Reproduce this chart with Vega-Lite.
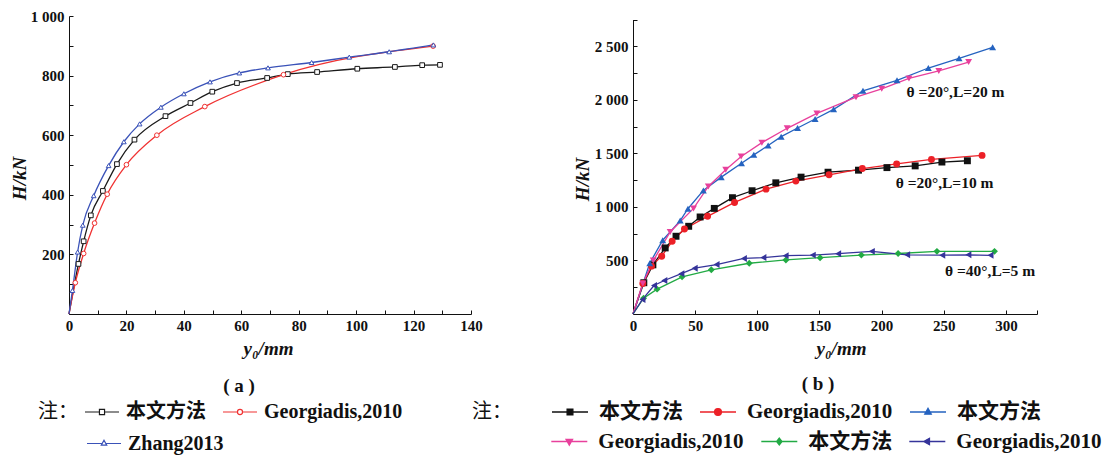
{
  "$schema": "https://vega.github.io/schema/vega-lite/v6.json",
  "background": "white",
  "padding": {"left": 10, "top": 9, "right": 0, "bottom": 0},
  "spacing": 162,
  "bounds": "flush",
  "resolve": {"scale": {"color": "independent", "shape": "independent", "stroke": "independent"}, "legend": {"color": "independent", "shape": "independent", "stroke": "independent"}},
  "config": {
    "view": {"stroke": null},
    "axis": {
      "grid": false,
      "domainColor": "#111111",
      "domainWidth": 1,
      "tickColor": "#111111",
      "tickWidth": 1,
      "tickSize": -4,
      "labelFont": "Liberation Serif",
      "labelFontSize": 15,
      "labelFontWeight": "bold",
      "labelColor": "#111111",
      "labelFlush": false,
      "labelOverlap": false,
      "titleFont": "Liberation Serif",
      "titleFontSize": 19,
      "titleFontWeight": "bold",
      "titleFontStyle": "italic",
      "titleColor": "#111111"
    },
    "axisX": {"labelPadding": 8},
    "axisY": {"labelPadding": 9},
    "legend": {
      "orient": "none",
      "direction": "horizontal",
      "titleOrient": "left",
      "titleAnchor": "middle",
      "titleBaseline": "middle",
      "titleFont": "Noto Sans CJK SC",
      "titleFontSize": 20,
      "titleFontWeight": "normal",
      "titleColor": "#111111",
      "labelFont": "Liberation Serif, Noto Sans CJK SC",
      "labelFontWeight": "bold",
      "labelColor": "#111111",
      "labelLimit": 0,
      "clipHeight": 30,
      "rowPadding": 0
    }
  },
  "datasets": {
    "a": [
      {"s": "本文方法", "x": 0, "y": 0},
      {"s": "本文方法", "x": 3.3, "y": 168},
      {"s": "本文方法", "x": 5.1, "y": 244},
      {"s": "本文方法", "x": 7.6, "y": 331},
      {"s": "本文方法", "x": 11.8, "y": 413},
      {"s": "本文方法", "x": 16.7, "y": 503},
      {"s": "本文方法", "x": 22.8, "y": 585},
      {"s": "本文方法", "x": 33.6, "y": 664},
      {"s": "本文方法", "x": 42.3, "y": 708},
      {"s": "本文方法", "x": 49.9, "y": 746},
      {"s": "本文方法", "x": 58.5, "y": 775},
      {"s": "本文方法", "x": 69.0, "y": 792},
      {"s": "本文方法", "x": 76.2, "y": 805},
      {"s": "本文方法", "x": 86.4, "y": 812},
      {"s": "本文方法", "x": 100.4, "y": 823},
      {"s": "本文方法", "x": 113.5, "y": 829},
      {"s": "本文方法", "x": 123.0, "y": 835},
      {"s": "本文方法", "x": 129.2, "y": 836},
      {"s": "Georgiadis,2010", "x": 0, "y": 0},
      {"s": "Georgiadis,2010", "x": 2.2, "y": 105},
      {"s": "Georgiadis,2010", "x": 5.1, "y": 203},
      {"s": "Georgiadis,2010", "x": 8.9, "y": 305},
      {"s": "Georgiadis,2010", "x": 13.3, "y": 402},
      {"s": "Georgiadis,2010", "x": 20.0, "y": 501},
      {"s": "Georgiadis,2010", "x": 30.6, "y": 600},
      {"s": "Georgiadis,2010", "x": 47.3, "y": 696},
      {"s": "Georgiadis,2010", "x": 74.7, "y": 803},
      {"s": "Georgiadis,2010", "x": 126.8, "y": 899},
      {"s": "Zhang2013", "x": 0, "y": 0},
      {"s": "Zhang2013", "x": 1.2, "y": 79},
      {"s": "Zhang2013", "x": 3.0, "y": 208},
      {"s": "Zhang2013", "x": 4.8, "y": 298},
      {"s": "Zhang2013", "x": 8.6, "y": 397},
      {"s": "Zhang2013", "x": 13.8, "y": 498},
      {"s": "Zhang2013", "x": 19.1, "y": 578},
      {"s": "Zhang2013", "x": 24.6, "y": 638},
      {"s": "Zhang2013", "x": 32.0, "y": 694},
      {"s": "Zhang2013", "x": 40.0, "y": 739},
      {"s": "Zhang2013", "x": 49.1, "y": 779},
      {"s": "Zhang2013", "x": 59.3, "y": 809},
      {"s": "Zhang2013", "x": 69.3, "y": 826},
      {"s": "Zhang2013", "x": 84.5, "y": 844},
      {"s": "Zhang2013", "x": 97.6, "y": 862},
      {"s": "Zhang2013", "x": 111.5, "y": 880},
      {"s": "Zhang2013", "x": 126.9, "y": 903}
    ],
    "b": [
      {"s": "b1", "x": 0, "y": 0},
      {"s": "b1", "x": 8.7, "y": 292},
      {"s": "b1", "x": 16.0, "y": 459},
      {"s": "b1", "x": 25.9, "y": 617},
      {"s": "b1", "x": 34.6, "y": 726},
      {"s": "b1", "x": 44.8, "y": 819},
      {"s": "b1", "x": 54.0, "y": 906},
      {"s": "b1", "x": 65.4, "y": 986},
      {"s": "b1", "x": 80.0, "y": 1086},
      {"s": "b1", "x": 95.8, "y": 1151},
      {"s": "b1", "x": 114.9, "y": 1225},
      {"s": "b1", "x": 135.2, "y": 1278},
      {"s": "b1", "x": 156.9, "y": 1324},
      {"s": "b1", "x": 181.4, "y": 1343},
      {"s": "b1", "x": 204.3, "y": 1367},
      {"s": "b1", "x": 227.0, "y": 1383},
      {"s": "b1", "x": 248.5, "y": 1419},
      {"s": "b1", "x": 269.0, "y": 1431},
      {"s": "b2", "x": 0, "y": 0},
      {"s": "b2", "x": 7.9, "y": 285},
      {"s": "b2", "x": 14.9, "y": 447},
      {"s": "b2", "x": 23.1, "y": 540},
      {"s": "b2", "x": 31.5, "y": 679},
      {"s": "b2", "x": 41.4, "y": 794},
      {"s": "b2", "x": 60.0, "y": 912},
      {"s": "b2", "x": 81.7, "y": 1042},
      {"s": "b2", "x": 107.0, "y": 1166},
      {"s": "b2", "x": 131.0, "y": 1241},
      {"s": "b2", "x": 157.7, "y": 1300},
      {"s": "b2", "x": 184.5, "y": 1358},
      {"s": "b2", "x": 212.1, "y": 1401},
      {"s": "b2", "x": 240.1, "y": 1443},
      {"s": "b2", "x": 280.8, "y": 1481},
      {"s": "b3", "x": 0, "y": 0},
      {"s": "b3", "x": 13.5, "y": 475},
      {"s": "b3", "x": 23.9, "y": 689},
      {"s": "b3", "x": 38.0, "y": 872},
      {"s": "b3", "x": 44.2, "y": 983},
      {"s": "b3", "x": 56.6, "y": 1154},
      {"s": "b3", "x": 71.0, "y": 1278},
      {"s": "b3", "x": 87.3, "y": 1408},
      {"s": "b3", "x": 97.2, "y": 1486},
      {"s": "b3", "x": 108.7, "y": 1573},
      {"s": "b3", "x": 119.2, "y": 1656},
      {"s": "b3", "x": 132.4, "y": 1737},
      {"s": "b3", "x": 146.5, "y": 1821},
      {"s": "b3", "x": 161.4, "y": 1911},
      {"s": "b3", "x": 185.0, "y": 2084},
      {"s": "b3", "x": 212.4, "y": 2182},
      {"s": "b3", "x": 237.6, "y": 2297},
      {"s": "b3", "x": 262.3, "y": 2387},
      {"s": "b3", "x": 289.3, "y": 2490},
      {"s": "b4", "x": 0, "y": 0},
      {"s": "b4", "x": 7.9, "y": 285},
      {"s": "b4", "x": 16.3, "y": 499},
      {"s": "b4", "x": 29.9, "y": 766},
      {"s": "b4", "x": 48.7, "y": 986},
      {"s": "b4", "x": 60.6, "y": 1191},
      {"s": "b4", "x": 74.6, "y": 1346},
      {"s": "b4", "x": 87.0, "y": 1470},
      {"s": "b4", "x": 103.7, "y": 1600},
      {"s": "b4", "x": 124.0, "y": 1734},
      {"s": "b4", "x": 147.9, "y": 1873},
      {"s": "b4", "x": 179.4, "y": 2025},
      {"s": "b4", "x": 200.1, "y": 2103},
      {"s": "b4", "x": 222.0, "y": 2200},
      {"s": "b4", "x": 246.0, "y": 2270},
      {"s": "b4", "x": 270.0, "y": 2353},
      {"s": "b5", "x": 0, "y": 0},
      {"s": "b5", "x": 8.5, "y": 147},
      {"s": "b5", "x": 19.4, "y": 232},
      {"s": "b5", "x": 39.5, "y": 347},
      {"s": "b5", "x": 63.0, "y": 413},
      {"s": "b5", "x": 93.5, "y": 474},
      {"s": "b5", "x": 123.0, "y": 505},
      {"s": "b5", "x": 150.5, "y": 526},
      {"s": "b5", "x": 183.7, "y": 550},
      {"s": "b5", "x": 213.3, "y": 565},
      {"s": "b5", "x": 244.5, "y": 585},
      {"s": "b5", "x": 290.8, "y": 585},
      {"s": "b6", "x": 0, "y": 0},
      {"s": "b6", "x": 7.6, "y": 136},
      {"s": "b6", "x": 16.9, "y": 266},
      {"s": "b6", "x": 25.2, "y": 313},
      {"s": "b6", "x": 38.9, "y": 377},
      {"s": "b6", "x": 49.6, "y": 428},
      {"s": "b6", "x": 67.2, "y": 462},
      {"s": "b6", "x": 89.2, "y": 519},
      {"s": "b6", "x": 104.9, "y": 527},
      {"s": "b6", "x": 122.8, "y": 545},
      {"s": "b6", "x": 144.6, "y": 550},
      {"s": "b6", "x": 165.0, "y": 563},
      {"s": "b6", "x": 192.1, "y": 585},
      {"s": "b6", "x": 220.5, "y": 553},
      {"s": "b6", "x": 248.8, "y": 549},
      {"s": "b6", "x": 269.8, "y": 553},
      {"s": "b6", "x": 287.6, "y": 548}
    ],
    "bt": [
      {"t": "θ =20°,L=20 m", "x": 220.1, "y": 2075},
      {"t": "θ =20°,L=10 m", "x": 211.3, "y": 1227},
      {"t": "θ =40°,L=5 m", "x": 251, "y": 398}
    ]
  },
  "hconcat": [
    {
      "width": 402,
      "height": 298,
      "title": {"text": "( a )", "orient": "bottom", "frame": "group", "anchor": "middle", "dx": -31, "offset": -82, "font": "Liberation Serif", "fontSize": 19, "fontWeight": "bold", "color": "#111111"},
      "data": {"name": "a"},
      "encoding": {
        "x": {"field": "x", "type": "quantitative",
          "scale": {"domain": [0, 140], "nice": false, "zero": false},
          "axis": {"values": [0, 10, 20, 30, 40, 50, 60, 70, 80, 90, 100, 110, 120, 130, 140],
            "labelExpr": "datum.value % 20 === 0 ? datum.label : ''",
            "title": "y₀/mm", "titleX": 199, "titleY": 40, "titleBaseline": "alphabetic", "titleAlign": "center"}},
        "y": {"field": "y", "type": "quantitative",
          "scale": {"domain": [0, 1000], "nice": false},
          "axis": {"values": [100, 200, 300, 400, 500, 600, 700, 800, 900, 1000],
            "labelExpr": "datum.value % 200 === 0 ? replace(format(datum.value, ','), ',', ' ') : ''",
            "title": "H/kN", "titleX": -49.5, "titleY": 162, "titleAngle": -90, "titleAlign": "center", "titleBaseline": "middle"}}
      },
      "layer": [
        {
          "mark": {"type": "line", "interpolate": "monotone", "strokeWidth": 1.3},
          "encoding": {
            "color": {"field": "s", "type": "nominal",
              "scale": {"domain": ["本文方法", "Georgiadis,2010", "Zhang2013"], "range": ["#1a1a1a", "#f03232", "#3a52b8"]},
              "legend": null}
          }
        },
        {
          "transform": [{"filter": "datum.x > 0"}],
          "mark": {"type": "point", "filled": false, "fill": "white", "size": 22, "strokeWidth": 1, "opacity": 1},
          "encoding": {
            "shape": {"field": "s", "type": "nominal",
              "scale": {"domain": ["本文方法", "Georgiadis,2010", "Zhang2013"], "range": ["square", "circle", "triangle-up"]},
              "legend": null},
            "color": {"field": "s", "type": "nominal",
              "scale": {"domain": ["本文方法", "Georgiadis,2010", "Zhang2013"], "range": ["#1a1a1a", "#f03232", "#3a52b8"]},
              "legend": null}
          }
        },
        {
          "transform": [{"filter": "false"}],
          "mark": {"type": "point", "filled": false, "fill": "white", "strokeWidth": 1.2, "opacity": 1},
          "encoding": {
            "shape": {"field": "s", "type": "nominal",
              "scale": {"domain": ["本文方法", "Georgiadis,2010"], "range": ["M-1,0H-0.15M0.15,0H1M-0.15,-0.15H0.15V0.15H-0.15Z", "M-1,0H-0.15M0.15,0H1M-0.15,0A0.15,0.15 0 1,0 0.15,0A0.15,0.15 0 1,0 -0.15,0Z"]},
              "legend": {"title": "注：", "legendX": -31, "legendY": 381, "columns": 2, "titlePadding": 6, "labelFontSize": 20, "labelOffset": 6, "columnPadding": 16, "symbolSize": 1156, "symbolStrokeWidth": 1.2, "encode": {"symbols": {"fill": {"value": "white"}}}}},
            "color": {"field": "s", "type": "nominal",
              "scale": {"domain": ["本文方法", "Georgiadis,2010"], "range": ["#1a1a1a", "#f03232"]},
              "legend": {"title": "注：", "legendX": -31, "legendY": 381, "columns": 2, "titlePadding": 6, "labelFontSize": 20, "labelOffset": 6, "columnPadding": 16, "symbolSize": 1156, "symbolStrokeWidth": 1.2, "encode": {"symbols": {"fill": {"value": "white"}}}}}
          }
        },
        {
          "transform": [{"filter": "false"}],
          "mark": {"type": "point", "filled": false, "fill": "white", "strokeWidth": 1.2, "opacity": 1},
          "encoding": {
            "shape": {"field": "s", "type": "nominal",
              "scale": {"domain": ["Zhang2013"], "range": ["M-1,0H-0.1M0.1,0H1M0,-0.19L0.16,0.1H-0.16Z"]},
              "legend": {"title": null, "legendX": 17, "legendY": 412.5, "columns": 1, "labelFontSize": 20, "labelOffset": 6, "symbolSize": 1156, "symbolStrokeWidth": 1.2, "encode": {"symbols": {"fill": {"value": "white"}}}}},
            "color": {"field": "s", "type": "nominal",
              "scale": {"domain": ["Zhang2013"], "range": ["#3a52b8"]},
              "legend": {"title": null, "legendX": 17, "legendY": 412.5, "columns": 1, "labelFontSize": 20, "labelOffset": 6, "symbolSize": 1156, "symbolStrokeWidth": 1.2, "encode": {"symbols": {"fill": {"value": "white"}}}}}
          }
        }
      ],
      "resolve": {"scale": {"color": "independent", "shape": "independent"}, "legend": {"color": "independent", "shape": "independent"}}
    },
    {
      "width": 404,
      "height": 298,
      "title": {"text": "( b )", "orient": "bottom", "frame": "group", "anchor": "middle", "dx": -17, "offset": -82, "font": "Liberation Serif", "fontSize": 19, "fontWeight": "bold", "color": "#111111"},
      "encoding": {
        "x": {"field": "x", "type": "quantitative",
          "scale": {"domain": [0, 325], "nice": false, "zero": false},
          "axis": {"values": [0, 50, 100, 150, 200, 250, 300, 325],
            "labelExpr": "datum.value <= 300 ? datum.label : ''",
            "title": "y₀/mm", "titleX": 208, "titleY": 40, "titleBaseline": "alphabetic", "titleAlign": "center"}},
        "y": {"field": "y", "type": "quantitative",
          "scale": {"domain": [0, 2750], "nice": false, "range": [298, 3.5]},
          "axis": {"values": [250, 500, 750, 1000, 1250, 1500, 1750, 2000, 2250, 2500, 2750],
            "labelExpr": "datum.value % 500 === 0 ? replace(format(datum.value, ','), ',', ' ') : ''",
            "title": "H/kN", "titleX": -50.5, "titleY": 163, "titleAngle": -90, "titleAlign": "center", "titleBaseline": "middle"}}
      },
      "layer": [
        {
          "data": {"name": "b"},
          "mark": {"type": "line", "strokeWidth": 1.3},
          "encoding": {
            "color": {"field": "s", "type": "nominal",
              "scale": {"domain": ["b1", "b2", "b3", "b4", "b5", "b6"], "range": ["#111111", "#ec2027", "#2563c0", "#e8409c", "#22aa44", "#35349a"]},
              "legend": null}
          }
        },
        {
          "data": {"name": "b"},
          "transform": [{"filter": "datum.x > 0"}],
          "mark": {"type": "point", "filled": true, "size": 48, "opacity": 1},
          "encoding": {
            "shape": {"field": "s", "type": "nominal",
              "scale": {"domain": ["b1", "b2", "b3", "b4", "b5", "b6"], "range": ["square", "circle", "triangle-up", "triangle-down", "diamond", "triangle-left"]},
              "legend": null},
            "color": {"field": "s", "type": "nominal",
              "scale": {"domain": ["b1", "b2", "b3", "b4", "b5", "b6"], "range": ["#111111", "#ec2027", "#2563c0", "#e8409c", "#22aa44", "#35349a"]},
              "legend": null}
          }
        },
        {
          "data": {"name": "b"},
          "transform": [{"filter": "false"}],
          "mark": {"type": "point", "filled": true, "strokeWidth": 1.3, "opacity": 1},
          "encoding": {
            "shape": {"field": "s", "type": "nominal",
              "scale": {"domain": ["b1", "b2", "b3"], "range": ["M-1,0H1M-0.16,-0.16H0.16V0.16H-0.16Z", "M-1,0H1M-0.19,0A0.19,0.19 0 1,0 0.19,0A0.19,0.19 0 1,0 -0.19,0Z", "M-1,0H1M0,-0.2L0.18,0.12H-0.18Z"]},
              "legend": {"title": "注：", "legendX": -161, "legendY": 381, "columns": 3, "titlePadding": 39, "labelFontSize": 21, "labelOffset": 10, "columnPadding": 16, "symbolSize": 1296, "symbolStrokeWidth": 1.3, "labelExpr": "datum.value === 'b2' ? 'Georgiadis,2010' : '本文方法'"}},
            "color": {"field": "s", "type": "nominal",
              "scale": {"domain": ["b1", "b2", "b3"], "range": ["#111111", "#ec2027", "#2563c0"]},
              "legend": {"title": "注：", "legendX": -161, "legendY": 381, "columns": 3, "titlePadding": 39, "labelFontSize": 21, "labelOffset": 10, "columnPadding": 16, "symbolSize": 1296, "symbolStrokeWidth": 1.3, "labelExpr": "datum.value === 'b2' ? 'Georgiadis,2010' : '本文方法'"}},
            "stroke": {"field": "s", "type": "nominal",
              "scale": {"domain": ["b1", "b2", "b3"], "range": ["#111111", "#ec2027", "#2563c0"]},
              "legend": {"title": "注：", "legendX": -161, "legendY": 381, "columns": 3, "titlePadding": 39, "labelFontSize": 21, "labelOffset": 10, "columnPadding": 16, "symbolSize": 1296, "symbolStrokeWidth": 1.3, "labelExpr": "datum.value === 'b2' ? 'Georgiadis,2010' : '本文方法'"}}
          }
        },
        {
          "data": {"name": "b"},
          "transform": [{"filter": "false"}],
          "mark": {"type": "point", "filled": true, "strokeWidth": 1.3, "opacity": 1},
          "encoding": {
            "shape": {"field": "s", "type": "nominal",
              "scale": {"domain": ["b4", "b5", "b6"], "range": ["M-1,0H1M0,0.2L0.18,-0.12H-0.18Z", "M-1,0H1M0,-0.19L0.15,0L0,0.19L-0.15,0Z", "M-1,0H1M-0.2,0L0.12,-0.18V0.18Z"]},
              "legend": {"title": null, "legendX": -82.7, "legendY": 410.5, "columns": 3, "labelFontSize": 21, "labelOffset": 10, "columnPadding": 16, "symbolSize": 1296, "symbolStrokeWidth": 1.3, "labelExpr": "datum.value === 'b5' ? '本文方法' : 'Georgiadis,2010'"}},
            "color": {"field": "s", "type": "nominal",
              "scale": {"domain": ["b4", "b5", "b6"], "range": ["#e8409c", "#22aa44", "#35349a"]},
              "legend": {"title": null, "legendX": -82.7, "legendY": 410.5, "columns": 3, "labelFontSize": 21, "labelOffset": 10, "columnPadding": 16, "symbolSize": 1296, "symbolStrokeWidth": 1.3, "labelExpr": "datum.value === 'b5' ? '本文方法' : 'Georgiadis,2010'"}},
            "stroke": {"field": "s", "type": "nominal",
              "scale": {"domain": ["b4", "b5", "b6"], "range": ["#e8409c", "#22aa44", "#35349a"]},
              "legend": {"title": null, "legendX": -82.7, "legendY": 410.5, "columns": 3, "labelFontSize": 21, "labelOffset": 10, "columnPadding": 16, "symbolSize": 1296, "symbolStrokeWidth": 1.3, "labelExpr": "datum.value === 'b5' ? '本文方法' : 'Georgiadis,2010'"}}
          }
        },
        {
          "data": {"name": "bt"},
          "mark": {"type": "text", "align": "left", "baseline": "middle", "font": "Liberation Serif", "fontSize": 15.5, "fontWeight": "bold", "color": "#111111"},
          "encoding": {"text": {"field": "t", "type": "nominal"}}
        }
      ],
      "resolve": {"scale": {"color": "independent", "shape": "independent", "stroke": "independent"}, "legend": {"color": "independent", "shape": "independent", "stroke": "independent"}}
    }
  ]
}
